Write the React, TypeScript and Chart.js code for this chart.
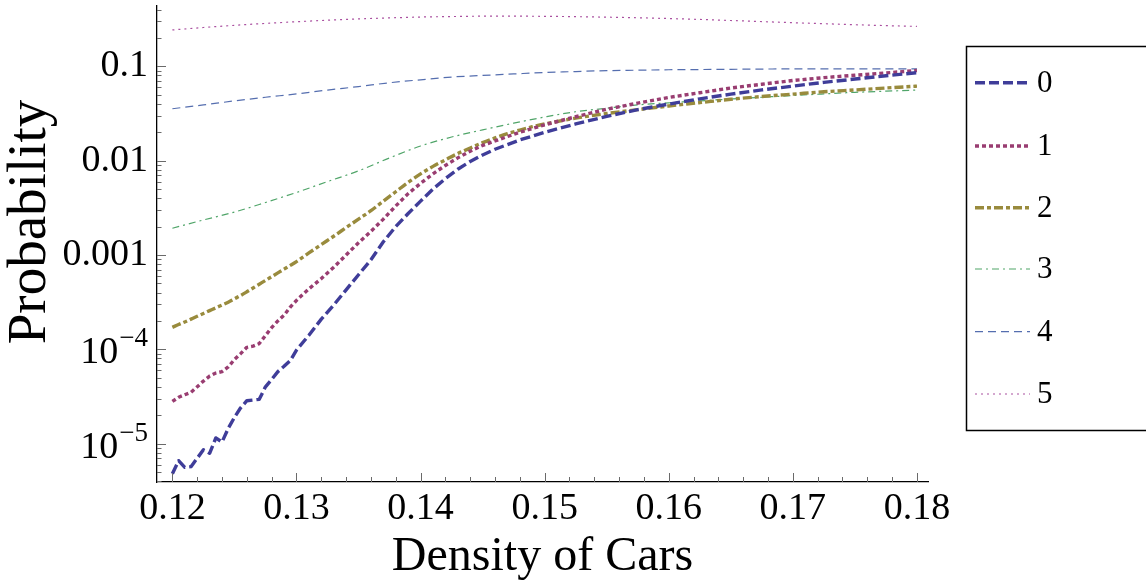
import React, { useEffect, useRef } from "react";
import { Chart, registerables } from "chart.js";

Chart.register(...registerables);

// ---- data ----
const densityFine = [
  0.12, 0.1205, 0.121, 0.1215, 0.122, 0.1225, 0.123, 0.1235, 0.124, 0.1245,
  0.125, 0.1255, 0.126, 0.1265, 0.127, 0.1275, 0.128, 0.1285, 0.129, 0.1295,
  0.13, 0.131, 0.132, 0.133, 0.134, 0.135, 0.136, 0.137, 0.138, 0.139,
  0.14, 0.141, 0.142, 0.143, 0.144, 0.145, 0.146, 0.147, 0.148, 0.149,
  0.15, 0.1525, 0.155, 0.1575, 0.16, 0.1625, 0.165, 0.1675, 0.17, 0.1725,
  0.175, 0.1775, 0.18,
];
const densityCoarse = [
  0.12, 0.1225, 0.125, 0.1275, 0.13, 0.1325, 0.135, 0.1375, 0.14, 0.1425,
  0.145, 0.1475, 0.15, 0.1525, 0.155, 0.1575, 0.16, 0.1625, 0.165, 0.1675,
  0.17, 0.1725, 0.175, 0.1775, 0.18,
];
const prob0 = [
  4.8e-6, 6.6e-6, 5.6e-6, 5.7e-6, 7.0e-6, 8.6e-6, 7.9e-6, 1.15e-5, 1.04e-5, 1.45e-5,
  1.9e-5, 2.4e-5, 2.85e-5, 2.9e-5, 2.95e-5, 4.0e-5, 4.8e-5, 5.8e-5, 6.6e-5, 7.6e-5,
  9.8e-5, 1.41e-4, 2.09e-4, 2.95e-4, 4.27e-4, 6.17e-4, 8.9e-4, 1.38e-3, 2.0e-3, 2.75e-3,
  3.72e-3, 5.0e-3, 6.45e-3, 8.1e-3, 9.8e-3, 0.0115, 0.0132, 0.0148, 0.0166, 0.0182,
  0.02, 0.0245, 0.0295, 0.0347, 0.0398, 0.0452, 0.0507, 0.0562, 0.0617, 0.0676,
  0.0733, 0.0794, 0.0855,
];
const prob1 = [
  2.8e-5, 3.1e-5, 3.3e-5, 3.5e-5, 4.0e-5, 4.6e-5, 5.2e-5, 5.6e-5, 5.8e-5, 6.5e-5,
  7.8e-5, 9.0e-5, 1.05e-4, 1.08e-4, 1.15e-4, 1.4e-4, 1.7e-4, 2.0e-4, 2.3e-4, 2.8e-4,
  3.3e-4, 4.37e-4, 5.62e-4, 7.41e-4, 1.0e-3, 1.35e-3, 1.78e-3, 2.4e-3, 3.31e-3, 4.47e-3,
  5.75e-3, 7.24e-3, 8.9e-3, 0.0107, 0.0126, 0.0145, 0.0162, 0.018, 0.02, 0.0219,
  0.024, 0.0292, 0.0351, 0.0407, 0.0468, 0.0525, 0.0589, 0.0646, 0.0708, 0.0759,
  0.0804, 0.0851, 0.0902,
];
const prob2 = [
  1.71e-4, 1.83e-4, 1.95e-4, 2.09e-4, 2.24e-4, 2.4e-4, 2.57e-4, 2.75e-4, 2.95e-4, 3.16e-4,
  3.43e-4, 3.72e-4, 4.07e-4, 4.47e-4, 4.9e-4, 5.37e-4, 5.89e-4, 6.46e-4, 7.08e-4, 7.76e-4,
  8.51e-4, 1.05e-3, 1.29e-3, 1.58e-3, 1.95e-3, 2.4e-3, 2.95e-3, 3.72e-3, 4.68e-3, 5.89e-3,
  7.24e-3, 8.7e-3, 0.0102, 0.0119, 0.0136, 0.0155, 0.0174, 0.0193, 0.0211, 0.0229,
  0.0245, 0.0282, 0.0316, 0.0347, 0.038, 0.0412, 0.0447, 0.0479, 0.0507, 0.0537,
  0.0562, 0.0589, 0.0617,
];
const prob3 = [
  1.92e-3, 2.35e-3, 2.85e-3, 3.6e-3, 4.6e-3, 6.0e-3, 7.8e-3, 0.0107, 0.0143, 0.0178,
  0.0212, 0.025, 0.029, 0.033, 0.036, 0.039, 0.041, 0.043, 0.045, 0.047,
  0.049, 0.051, 0.053, 0.0545, 0.056,
];
const prob4 = [
  0.0355, 0.039, 0.043, 0.047, 0.051, 0.056, 0.061, 0.067, 0.072, 0.077,
  0.08, 0.083, 0.086, 0.088, 0.09, 0.091, 0.092, 0.0925, 0.093, 0.0935,
  0.094, 0.094, 0.094, 0.094, 0.094,
];
const prob5 = [
  0.243, 0.258, 0.272, 0.285, 0.297, 0.308, 0.318, 0.326, 0.333, 0.337,
  0.34, 0.34, 0.339, 0.336, 0.332, 0.327, 0.321, 0.314, 0.306, 0.298,
  0.29, 0.283, 0.276, 0.27, 0.265,
];
const seriesLabels = ["0", "1", "2", "3", "4", "5"];
const xTickValues = [0.12, 0.13, 0.14, 0.15, 0.16, 0.17, 0.18];
const yTickValues = [1e-5, 1e-4, 1e-3, 1e-2, 1e-1];
const yTickLabels = ["10^\u22125", "10^\u22124", "0.001", "0.01", "0.1"];
const xTitle = "Density of Cars";
const yTitle = "Probability";

// ---- styles ----
const seriesColors = [
  "rgb(63,61,153)",
  "rgb(153,61,113)",
  "rgb(153,139,61)",
  "rgb(80,165,105)",
  "rgb(85,110,175)",
  "rgb(170,80,160)",
];
const seriesWidths = [3.4, 3.4, 3.4, 1.2, 1.2, 1.2];
const seriesDashes = [
  [10, 4],
  [4, 3],
  [9, 3, 4, 3],
  [7, 4, 2, 4],
  [8, 5],
  [2, 4],
];
const seriesSmooth = [false, false, true, true, true, true];
const FONT = "'Liberation Serif', 'Times New Roman', serif";

const seriesX = [densityFine, densityFine, densityFine, densityCoarse, densityCoarse, densityCoarse];
const seriesY = [prob0, prob1, prob2, prob3, prob4, prob5];

const decorPlugin = {
  id: "decor",
  afterDraw(chart: any) {
    const ctx = chart.ctx;
    const xs = chart.scales.x;
    const ys = chart.scales.y;
    const area = chart.chartArea;
    ctx.save();
    ctx.strokeStyle = "#6a6a6a";
    ctx.lineWidth = 1;
    ctx.setLineDash([]);
    // x ticks (major every 0.01, minor every 0.002), pointing inward
    const xMinorStep = 0.002;
    for (let k = 0; k <= 30; k++) {
      const v = xTickValues[0] + k * xMinorStep;
      const px = Math.round(xs.getPixelForValue(v)) + 0.5;
      const len = k % 5 === 0 ? 9 : 5;
      ctx.beginPath();
      ctx.moveTo(px, area.bottom);
      ctx.lineTo(px, area.bottom - len);
      ctx.stroke();
    }
    // y ticks (log): majors at decades, minors at 2..9
    for (let e = -6; e <= 0; e++) {
      for (let m = 1; m <= 9; m++) {
        const v = m * Math.pow(10, e);
        if (v < ys.min || v > ys.max) continue;
        const py = Math.round(ys.getPixelForValue(v)) + 0.5;
        const len = m === 1 ? 9 : 4.5;
        ctx.beginPath();
        ctx.moveTo(area.left, py);
        ctx.lineTo(area.left + len, py);
        ctx.stroke();
      }
    }
    // power-of-ten tick labels with a real superscript
    ctx.fillStyle = "#000";
    ctx.textBaseline = "alphabetic";
    ctx.textAlign = "right";
    const labelRight = area.left - 9;
    yTickLabels.forEach((lab, i) => {
      if (lab.indexOf("^") < 0) return;
      const [base, exp] = lab.split("^");
      const py = ys.getPixelForValue(yTickValues[i]);
      ctx.font = `27px ${FONT}`;
      const expW = ctx.measureText(exp).width;
      ctx.fillText(exp, labelRight, py - 3);
      ctx.font = `38px ${FONT}`;
      ctx.fillText(base, labelRight - expW - 1, py + 14);
    });
    // y axis title
    ctx.save();
    ctx.fillStyle = "#000";
    ctx.font = `55px ${FONT}`;
    ctx.textAlign = "center";
    ctx.textBaseline = "middle";
    ctx.translate(31, 222);
    ctx.rotate(-Math.PI / 2);
    ctx.fillText(yTitle, 0, 0);
    ctx.restore();
    // legend
    const boxL = 966.5, boxT = 46.5, boxB = 430.5;
    ctx.strokeStyle = "#000";
    ctx.lineWidth = 1.5;
    ctx.strokeRect(boxL, boxT, 1200 - boxL, boxB - boxT);
    const rowY = [82.7, 146, 207.7, 269, 331.7, 394];
    ctx.font = `31px ${FONT}`;
    ctx.fillStyle = "#000";
    ctx.textBaseline = "middle";
    ctx.textAlign = "left";
    for (let i = 0; i < seriesLabels.length; i++) {
      const y = rowY[i];
      ctx.strokeStyle = seriesColors[i];
      ctx.lineWidth = seriesWidths[i];
      ctx.setLineDash(seriesDashes[i]);
      ctx.beginPath();
      ctx.moveTo(975, y);
      ctx.lineTo(1030, y);
      ctx.stroke();
      ctx.setLineDash([]);
      ctx.fillText(seriesLabels[i], 1037, y + 1);
    }
    ctx.restore();
  },
};

export default function App() {
  const ref = useRef<HTMLCanvasElement | null>(null);
  useEffect(() => {
    document.body.style.margin = "0";
    const canvas = ref.current;
    if (!canvas) return;
    Chart.defaults.color = "#000";
    const datasets = seriesLabels.map((label, i) => ({
      label,
      data: seriesX[i].map((x, j) => ({ x, y: seriesY[i][j] })),
      borderColor: seriesColors[i],
      backgroundColor: seriesColors[i],
      borderWidth: seriesWidths[i],
      borderDash: seriesDashes[i],
      borderCapStyle: "butt" as const,
      borderJoinStyle: "round" as const,
      pointRadius: 0,
      fill: false,
      tension: seriesSmooth[i] ? 0.4 : 0,
      cubicInterpolationMode: seriesSmooth[i] ? ("monotone" as const) : ("default" as const),
    }));
    const chart = new Chart(canvas, {
      type: "line",
      data: { datasets },
      options: {
        animation: false,
        responsive: false,
        maintainAspectRatio: false,
        layout: { padding: { left: 0, right: 218, top: 6, bottom: 0 } },
        plugins: { legend: { display: false }, tooltip: { enabled: false } },
        scales: {
          x: {
            type: "linear",
            min: 0.11876,
            max: 0.18089,
            afterBuildTicks: (s: any) => {
              s.ticks = xTickValues.map((v) => ({ value: v }));
            },
            afterFit: (s: any) => {
              s.height = 102;
              s.paddingLeft = 0;
              s.paddingRight = 0;
            },
            grid: { display: false, drawTicks: false },
            border: { display: true, color: "#000", width: 1.3 },
            ticks: {
              autoSkip: false,
              maxRotation: 0,
              padding: 4,
              font: { family: FONT, size: 38 },
              color: "#000",
              callback: (v: any) => Number(v).toFixed(2),
            },
            title: {
              display: true,
              text: xTitle,
              font: { family: FONT, size: 48, lineHeight: 1.1 },
              color: "#000",
              padding: { top: 0, bottom: 0 },
            },
          },
          y: {
            type: "logarithmic",
            min: 3.92e-6,
            max: 0.436,
            afterBuildTicks: (s: any) => {
              s.ticks = yTickValues.map((v) => ({ value: v, major: true }));
            },
            afterFit: (s: any) => {
              s.width = 157;
              s.paddingTop = 0;
              s.paddingBottom = 0;
            },
            grid: { display: false, drawTicks: false },
            border: { display: true, color: "#000", width: 1.3 },
            ticks: {
              autoSkip: false,
              padding: 9,
              font: { family: FONT, size: 38 },
              color: "#000",
              callback: (v: any) => {
                const idx = yTickValues.findIndex((t) => Math.abs(t - Number(v)) / t < 1e-6);
                if (idx < 0) return "";
                const lab = yTickLabels[idx];
                return lab.indexOf("^") < 0 ? lab : "";
              },
            },
            title: { display: false },
          },
        },
      },
      plugins: [decorPlugin],
    });
    return () => chart.destroy();
  }, []);
  return (
    <div style={{ position: "fixed", left: 0, top: 0, width: 1146, height: 584, background: "#fff" }}>
      <canvas ref={ref} width={1146} height={584} style={{ width: 1146, height: 584, display: "block" }} />
    </div>
  );
}
